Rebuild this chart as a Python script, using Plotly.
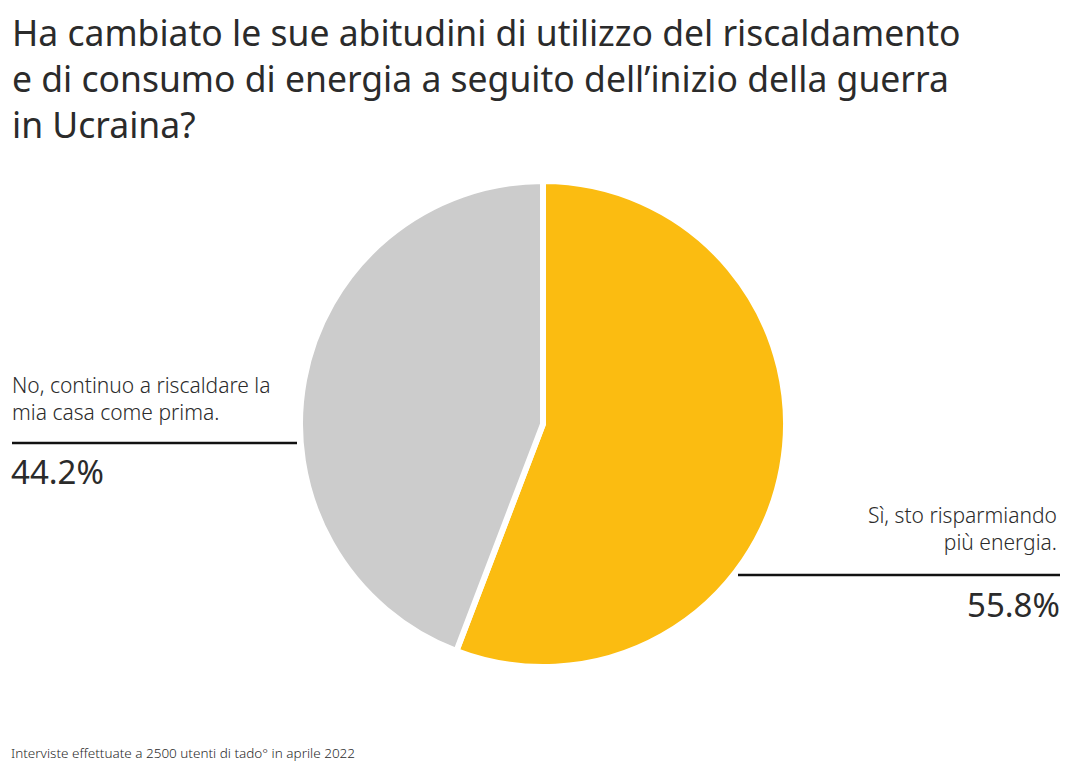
import plotly.graph_objects as go

labels = ["Sì, sto risparmiando più energia.", "No, continuo a riscaldare la mia casa come prima."]
values = [55.8, 44.2]
colors = ["#FBBC11", "#CCCCCC"]

title_text = ("Ha cambiato le sue abitudini di utilizzo del riscaldamento<br>"
              "e di consumo di energia a seguito dell’inizio della guerra<br>"
              "in Ucraina?")
footnote = "Interviste effettuate a 2500 utenti di tado° in aprile 2022"

# page body has an 8px margin; work in window pixel coordinates
OFF = 8
W, H = 1081 - 2 * OFF, 771 - 2 * OFF
def px(x): return (x - OFF) / W
def py(y): return 1 - (y - OFF) / H

fig = go.Figure(go.Pie(
    labels=labels, values=values, sort=False, direction="clockwise", rotation=0,
    marker=dict(colors=colors, line=dict(color="white", width=6)),
    textinfo="none", hoverinfo="none", showlegend=False,
    domain=dict(x=[px(300), px(786)], y=[py(667), py(181)]),
))

font = "'Noto Sans', Lato, sans-serif"
dark = "#2b2b2b"
ann = []
ann.append(dict(text=title_text, x=px(10), y=py(6), xref="paper", yref="paper",
                xanchor="left", yanchor="top", align="left", showarrow=False,
                font=dict(family=font, size=35.5, color=dark)))
ann.append(dict(text="No, continuo a riscaldare la<br>mia casa come prima.", x=px(10), y=py(369),
                xref="paper", yref="paper", xanchor="left", yanchor="top", align="left",
                showarrow=False, font=dict(family=font, size=21, color=dark, weight=300)))
ann.append(dict(text=f"{values[1]:.1f}%", x=px(9), y=py(447), xref="paper", yref="paper",
                xanchor="left", yanchor="top", align="left", showarrow=False,
                font=dict(family=font, size=33, color=dark, weight=400)))
ann.append(dict(text="Sì, sto risparmiando<br>più energia.", x=px(1059), y=py(499),
                xref="paper", yref="paper", xanchor="right", yanchor="top", align="right",
                showarrow=False, font=dict(family=font, size=21, color=dark, weight=300)))
ann.append(dict(text=f"{values[0]:.1f}%", x=px(1062), y=py(580), xref="paper", yref="paper",
                xanchor="right", yanchor="top", align="right", showarrow=False,
                font=dict(family=font, size=33, color=dark, weight=400)))
ann.append(dict(text=footnote, x=px(9), y=py(742), xref="paper", yref="paper",
                xanchor="left", yanchor="top", align="left", showarrow=False,
                font=dict(family=font, size=13.5, color=dark, weight=300)))

shapes = [
    dict(type="line", xref="paper", yref="paper", x0=px(12), x1=px(297), y0=py(443), y1=py(443),
         line=dict(color="#111111", width=2.5)),
    dict(type="line", xref="paper", yref="paper", x0=px(738), x1=px(1060), y0=py(575), y1=py(575),
         line=dict(color="#111111", width=2.5)),
]

fig.update_layout(width=W, height=H, margin=dict(l=0, r=0, t=0, b=0),
                  paper_bgcolor="white", plot_bgcolor="white",
                  annotations=ann, shapes=shapes)
fig.write_html("out.html")
